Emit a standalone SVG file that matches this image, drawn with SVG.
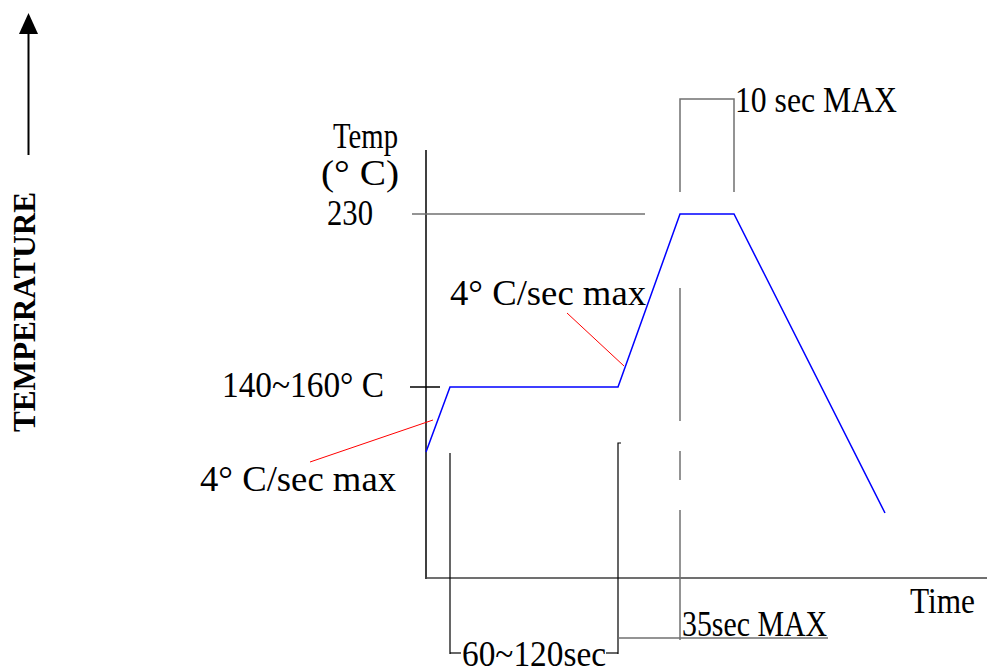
<svg xmlns="http://www.w3.org/2000/svg" width="987" height="668" viewBox="0 0 987 668">
<style>
.t{font-family:"Liberation Serif","Times New Roman",serif;font-size:36px;fill:#000}
.axis{stroke:#000;stroke-width:1.5;fill:none}
.gray{stroke:#707070;stroke-width:1.5;fill:none}
.blue{stroke:#0000ff;stroke-width:1.5;fill:none;stroke-linejoin:miter}
.red{stroke:#ff0000;stroke-width:1;fill:none}
.thin{stroke:#000;stroke-width:1.2;fill:none}
</style>
<rect width="987" height="668" fill="#fff"/>
<g id="temperature-label">
<line x1="28.5" y1="155" x2="28.5" y2="32" stroke="#000" stroke-width="2"/>
<polygon points="28.5,13 19,34 38,34" fill="#000"/>
<text transform="translate(35,432) rotate(-90)" font-family="Liberation Serif,Times New Roman,serif" font-weight="bold" font-size="32" textLength="240" lengthAdjust="spacingAndGlyphs">TEMPERATURE</text>
</g>
<g id="axes">
<line class="axis" x1="426" y1="150" x2="426" y2="579"/>
<line x1="425" y1="578" x2="987" y2="578" stroke="#404040" stroke-width="1.5"/>
<line class="gray" x1="412" y1="214" x2="645" y2="214"/>
<line class="axis" x1="410" y1="387" x2="440" y2="387"/>
</g>
<g id="profile">
<polyline class="blue" points="426,452 450,387 618,387 680,214 734,214 885,513"/>
</g>
<g id="connectors">
<line class="red" x1="310" y1="462" x2="433" y2="420"/>
<line class="red" x1="567" y1="313" x2="624" y2="366"/>
<line class="gray" x1="680" y1="288" x2="680" y2="421"/>
<line class="gray" x1="680" y1="451" x2="680" y2="480"/>
<line class="gray" x1="680" y1="510" x2="680" y2="640"/>
<polyline class="gray" points="680,192 680,99 734,99 734,192"/>
<line class="thin" x1="450" y1="453" x2="450" y2="654"/>
<polyline class="thin" points="621,443 618,443 618,654"/>
<line class="thin" x1="450" y1="653" x2="461" y2="653"/>
<line class="thin" x1="606" y1="653" x2="618" y2="653"/>
<line class="gray" x1="618" y1="638" x2="828" y2="638"/>
</g>
<g id="labels">
<text class="t" x="333" y="148" textLength="65" lengthAdjust="spacingAndGlyphs">Temp</text>
<text class="t" x="321" y="185" textLength="78" lengthAdjust="spacingAndGlyphs">(° C)</text>
<text class="t" x="327" y="225" textLength="46" lengthAdjust="spacingAndGlyphs">230</text>
<text class="t" x="222" y="397" textLength="162" lengthAdjust="spacingAndGlyphs">140~160° C</text>
<text class="t" x="450" y="305" textLength="196" lengthAdjust="spacingAndGlyphs">4° C/sec max</text>
<text class="t" x="200" y="491" textLength="196" lengthAdjust="spacingAndGlyphs">4° C/sec max</text>
<text class="t" x="735" y="112" textLength="162" lengthAdjust="spacingAndGlyphs">10 sec MAX</text>
<text class="t" x="910" y="613" textLength="65" lengthAdjust="spacingAndGlyphs">Time</text>
<text class="t" x="462" y="666" textLength="144" lengthAdjust="spacingAndGlyphs">60~120sec</text>
<text class="t" x="682" y="636" textLength="145" lengthAdjust="spacingAndGlyphs">35sec MAX</text>
</g>
</svg>
